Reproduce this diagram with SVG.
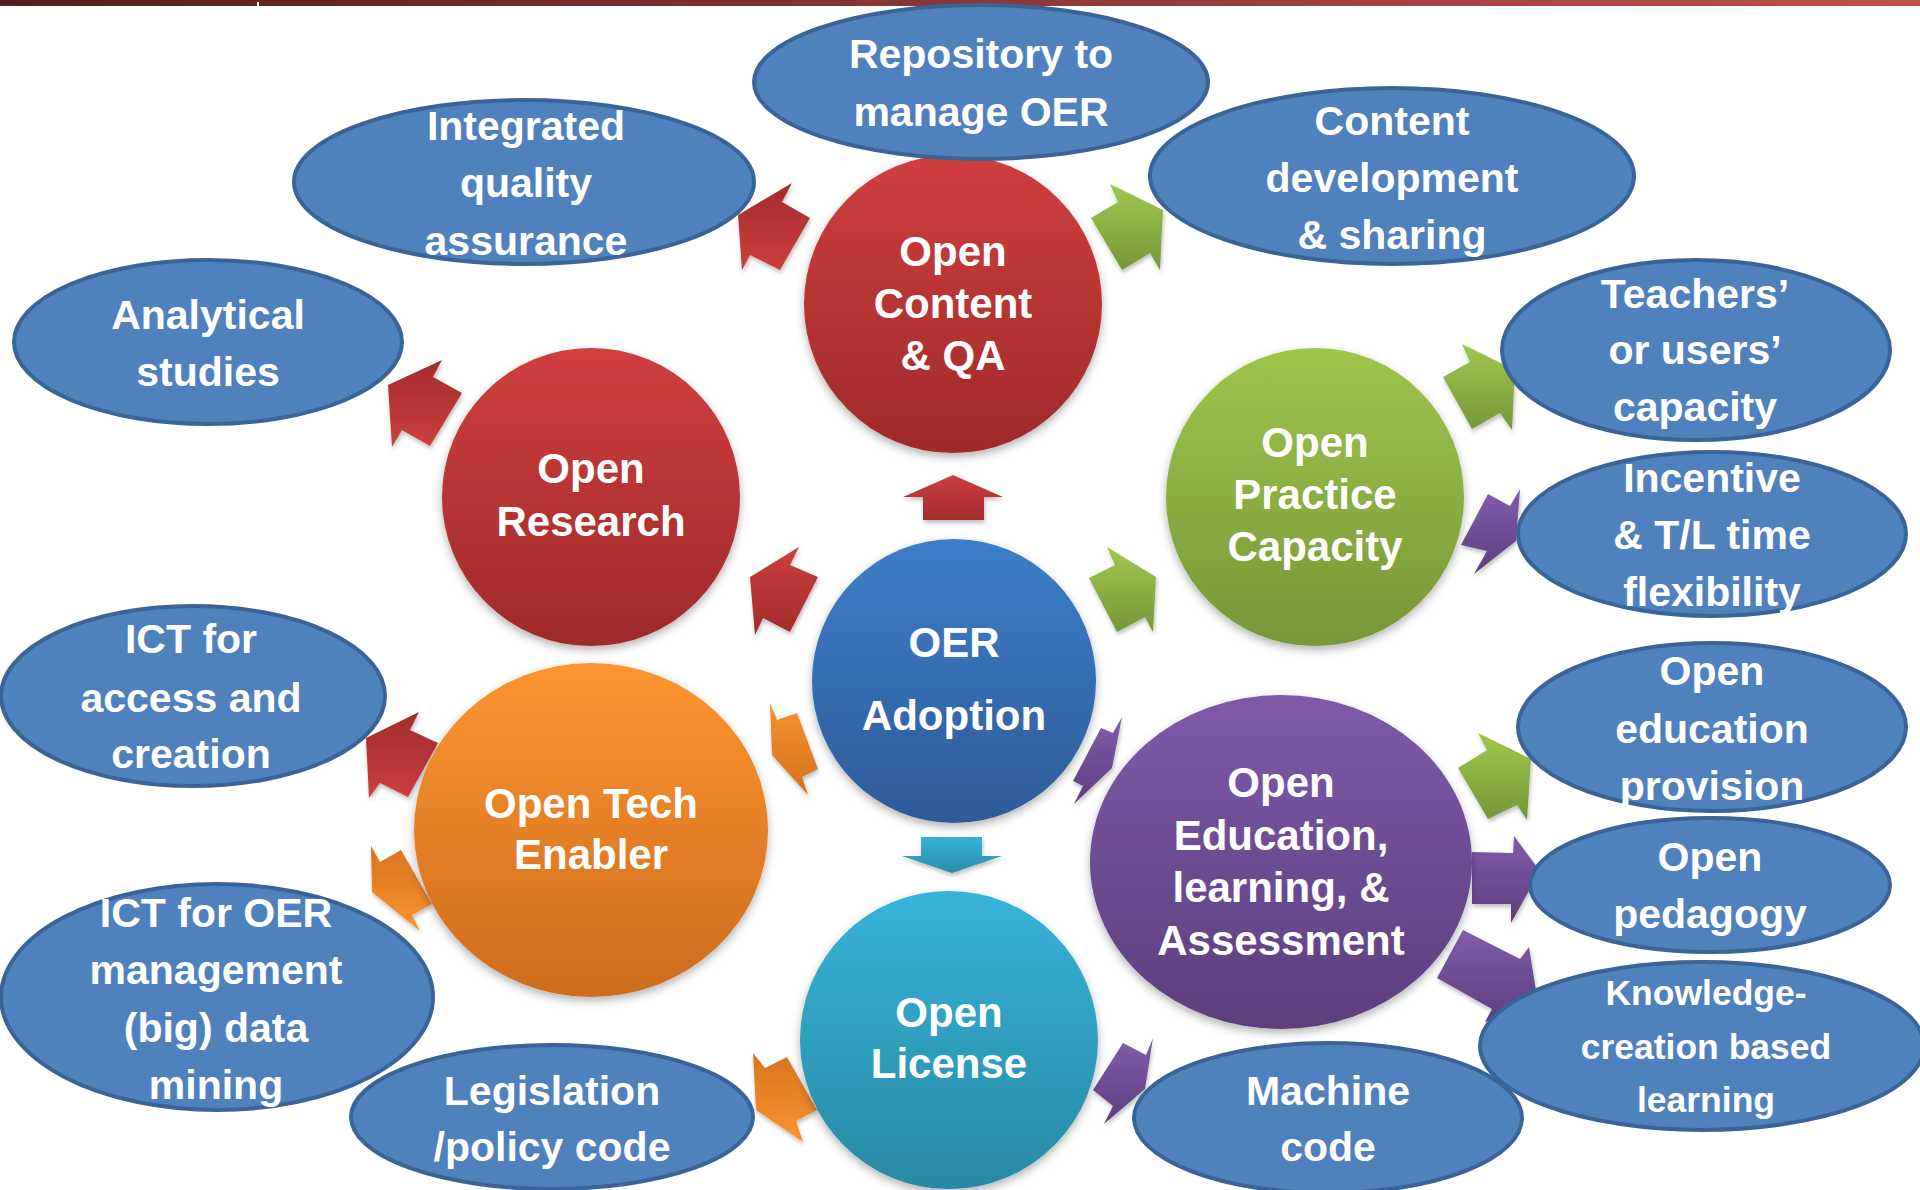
<svg xmlns="http://www.w3.org/2000/svg" width="1920" height="1190" viewBox="0 0 1920 1190">
  <defs>
    <style>
      .t { font-family: "Liberation Sans", Arial, sans-serif; font-weight: bold; fill: #ffffff; text-anchor: middle; font-size: 41px; }
      .tc { font-size: 42px; }
      .ts { font-size: 35.5px; }
      .leaf { fill: #4f81bd; stroke: #3a6396; stroke-width: 4; }
      .hub { filter: url(#softShadow); }
      .arrow { filter: url(#arrowShadow); }
    </style>
    <linearGradient id="barGrad" x1="0" y1="0" x2="1" y2="0">
      <stop offset="0" stop-color="#531e1f"/>
      <stop offset="1" stop-color="#c0504d"/>
    </linearGradient>
    <!-- hub fills -->
    <linearGradient id="gRed" x1="0" y1="0" x2="0" y2="1">
      <stop offset="0" stop-color="#d03f3e"/>
      <stop offset="1" stop-color="#9e2a2a"/>
    </linearGradient>
    <linearGradient id="gBlue" x1="0" y1="0" x2="0" y2="1">
      <stop offset="0" stop-color="#3d7ec9"/>
      <stop offset="1" stop-color="#2e5b98"/>
    </linearGradient>
    <linearGradient id="gGreen" x1="0" y1="0" x2="0" y2="1">
      <stop offset="0" stop-color="#9dc64b"/>
      <stop offset="1" stop-color="#779739"/>
    </linearGradient>
    <linearGradient id="gOrange" x1="0" y1="0" x2="0" y2="1">
      <stop offset="0" stop-color="#fd9530"/>
      <stop offset="1" stop-color="#cd6c1e"/>
    </linearGradient>
    <linearGradient id="gTeal" x1="0" y1="0" x2="0" y2="1">
      <stop offset="0" stop-color="#37b4d9"/>
      <stop offset="1" stop-color="#2889a3"/>
    </linearGradient>
    <linearGradient id="gPurple" x1="0" y1="0" x2="0" y2="1">
      <stop offset="0" stop-color="#7d5aa8"/>
      <stop offset="1" stop-color="#5d3e7d"/>
    </linearGradient>
    <!-- arrow fills -->
    <linearGradient id="aRed" x1="0" y1="0" x2="0" y2="1">
      <stop offset="0" stop-color="#cc3f3e"/>
      <stop offset="1" stop-color="#a22c2c"/>
    </linearGradient>
    <linearGradient id="aRedUp" x1="0" y1="0" x2="0" y2="1">
      <stop offset="0" stop-color="#a22c2c"/>
      <stop offset="1" stop-color="#cc3f3e"/>
    </linearGradient>
    <linearGradient id="aGreen" x1="0" y1="0" x2="0" y2="1">
      <stop offset="0" stop-color="#9fc84c"/>
      <stop offset="1" stop-color="#76973a"/>
    </linearGradient>
    <linearGradient id="aPurple" x1="0" y1="0" x2="0" y2="1">
      <stop offset="0" stop-color="#805dab"/>
      <stop offset="1" stop-color="#5e3e7f"/>
    </linearGradient>
    <linearGradient id="aOrange" x1="0" y1="0" x2="0" y2="1">
      <stop offset="0" stop-color="#f6922f"/>
      <stop offset="1" stop-color="#d5711f"/>
    </linearGradient>
    <linearGradient id="aOrangeUp" x1="0" y1="0" x2="0" y2="1">
      <stop offset="0" stop-color="#d9741f"/>
      <stop offset="1" stop-color="#f8942f"/>
    </linearGradient>
    <linearGradient id="aTeal" x1="0" y1="0" x2="0" y2="1">
      <stop offset="0" stop-color="#37b3d7"/>
      <stop offset="1" stop-color="#2a8ca8"/>
    </linearGradient>
    <filter id="softShadow" x="-20%" y="-20%" width="140%" height="150%">
      <feDropShadow dx="0" dy="4" stdDeviation="5" flood-color="#000" flood-opacity="0.3"/>
    </filter>
    <filter id="arrowShadow" x="-30%" y="-30%" width="160%" height="160%">
      <feDropShadow dx="1" dy="3" stdDeviation="2" flood-color="#000" flood-opacity="0.25"/>
    </filter>
  </defs>

  <rect width="1920" height="1190" fill="#ffffff"/>
  <!-- title band -->
  <rect x="0" y="0" width="1920" height="6" fill="url(#barGrad)"/>
  <rect x="257" y="2" width="2" height="4" fill="#ffffff"/>

  <!-- block arrows between hubs and outcomes -->
  <g id="connectors">
    <polygon class="arrow" fill="url(#aRedUp)" points="738,215 792,183 782,202 810,218 780,270 750,255 742,270"/>
    <polygon class="arrow" fill="url(#aGreen)" points="1110,184 1118,202 1091,218 1122,270 1150,253 1160,270 1163,210"/>
    <polygon class="arrow" fill="url(#aRed)" points="953,475 1003,497 984,497 984,520 923,520 923,497 903,497"/>
    <polygon class="arrow" fill="url(#aRedUp)" points="388,385 442,360 433,377 462,393 430,446 402,430 392,447"/>
    <polygon class="arrow" fill="url(#aRed)" points="750,577 799,547 790,565 818,577 790,632 763,618 755,635"/>
    <polygon class="arrow" fill="url(#aGreen)" points="1107,547 1115,565 1089,578 1117,632 1145,617 1153,632 1156,577"/>
    <polygon class="arrow" fill="url(#aGreen)" points="1462,344 1470,362 1443,377 1472,429 1500,413 1512,430 1515,370"/>
    <polygon class="arrow" fill="url(#aPurple)" points="1520,489 1510,506 1488,494 1461,545 1487,551 1474,574 1516,541"/>
    <polygon class="arrow" fill="url(#aOrange)" points="772,755 770,703 777,720 797,713 818,769 802,777 808,795"/>
    <polygon class="arrow" fill="url(#aPurple)" points="1122,717 1113,733 1101,728 1073,781 1083,786 1074,804 1112,768"/>
    <polygon class="arrow" fill="url(#aTeal)" points="921,837 982,837 982,856 1002,856 952,873 902,856 921,856"/>
    <polygon class="arrow" fill="url(#aRedUp)" points="366,738 419,712 410,730 438,743 408,797 380,783 369,798"/>
    <polygon class="arrow" fill="url(#aOrangeUp)" points="371,846 380,862 401,850 432,904 412,915 420,931 372,892"/>
    <polygon class="arrow" fill="url(#aGreen)" points="1478,733 1487,750 1458,768 1488,819 1517,805 1527,820 1531,759"/>
    <polygon class="arrow" fill="url(#aPurple)" points="1472,852 1513,853 1514,836 1540,871 1511,923 1511,904 1472,904"/>
    <polygon class="arrow" fill="url(#aPurple)" points="1463,930 1520,959 1529,947 1538,1003 1485,1022 1492,1009 1437,978"/>
    <polygon class="arrow" fill="url(#aOrangeUp)" points="753,1053 765,1068 787,1057 817,1110 796,1121 803,1142 756,1110"/>
    <polygon class="arrow" fill="url(#aPurple)" points="1153,1038 1146,1055 1123,1043 1093,1090 1113,1106 1104,1124 1145,1089"/>
  </g>

  <!-- hub circles -->
  <g id="open-content">
    <circle class="hub" cx="953" cy="304" r="149" fill="url(#gRed)"/>
    <text class="t tc"><tspan x="953" y="266">Open</tspan><tspan x="953" y="318">Content</tspan><tspan x="953" y="370">&amp; QA</tspan></text>
  </g>
  <g id="open-research">
    <circle class="hub" cx="591" cy="497" r="149" fill="url(#gRed)"/>
    <text class="t tc"><tspan x="591" y="483">Open</tspan><tspan x="591" y="536">Research</tspan></text>
  </g>
  <g id="oer-adoption">
    <circle class="hub" cx="954" cy="681" r="142" fill="url(#gBlue)"/>
    <text class="t tc"><tspan x="954" y="657">OER</tspan><tspan x="954" y="730">Adoption</tspan></text>
  </g>
  <g id="open-practice">
    <circle class="hub" cx="1315" cy="497" r="149" fill="url(#gGreen)"/>
    <text class="t tc"><tspan x="1315" y="457">Open</tspan><tspan x="1315" y="509">Practice</tspan><tspan x="1315" y="561">Capacity</tspan></text>
  </g>
  <g id="open-tech">
    <ellipse class="hub" cx="591" cy="830" rx="177" ry="167" fill="url(#gOrange)"/>
    <text class="t tc"><tspan x="591" y="818">Open Tech</tspan><tspan x="591" y="869">Enabler</tspan></text>
  </g>
  <g id="open-license">
    <circle class="hub" cx="949" cy="1040" r="149" fill="url(#gTeal)"/>
    <text class="t tc"><tspan x="949" y="1027">Open</tspan><tspan x="949" y="1078">License</tspan></text>
  </g>
  <g id="open-education">
    <ellipse class="hub" cx="1281" cy="862" rx="191" ry="167" fill="url(#gPurple)"/>
    <text class="t tc"><tspan x="1281" y="797">Open</tspan><tspan x="1281" y="850">Education,</tspan><tspan x="1281" y="902">learning, &amp;</tspan><tspan x="1281" y="955">Assessment</tspan></text>
  </g>

  <!-- outcome ellipses -->
  <g id="repository">
    <ellipse class="leaf" cx="981" cy="82" rx="227" ry="77"/>
    <text class="t"><tspan x="981" y="68">Repository to</tspan><tspan x="981" y="126">manage OER</tspan></text>
  </g>
  <g id="integrated-qa">
    <ellipse class="leaf" cx="524" cy="182" rx="230" ry="82"/>
    <text class="t"><tspan x="526" y="140">Integrated</tspan><tspan x="526" y="197">quality</tspan><tspan x="526" y="255">assurance</tspan></text>
  </g>
  <g id="content-development">
    <ellipse class="leaf" cx="1392" cy="176" rx="242" ry="88"/>
    <text class="t"><tspan x="1392" y="135">Content</tspan><tspan x="1392" y="192">development</tspan><tspan x="1392" y="249">&amp; sharing</tspan></text>
  </g>
  <g id="analytical-studies">
    <ellipse class="leaf" cx="208" cy="342" rx="194" ry="82"/>
    <text class="t"><tspan x="208" y="329">Analytical</tspan><tspan x="208" y="386">studies</tspan></text>
  </g>
  <g id="teachers-capacity">
    <ellipse class="leaf" cx="1696" cy="350" rx="194" ry="90"/>
    <text class="t"><tspan x="1695" y="308">Teachers’</tspan><tspan x="1695" y="364">or users’</tspan><tspan x="1695" y="421">capacity</tspan></text>
  </g>
  <g id="incentive">
    <ellipse class="leaf" cx="1712" cy="534" rx="194" ry="82"/>
    <text class="t"><tspan x="1712" y="492">Incentive</tspan><tspan x="1712" y="549">&amp; T/L time</tspan><tspan x="1712" y="606">flexibility</tspan></text>
  </g>
  <g id="ict-access">
    <ellipse class="leaf" cx="193" cy="696" rx="192" ry="90"/>
    <text class="t"><tspan x="191" y="653">ICT for</tspan><tspan x="191" y="712">access and</tspan><tspan x="191" y="768">creation</tspan></text>
  </g>
  <g id="ict-oer-management">
    <ellipse class="leaf" cx="217" cy="997" rx="216" ry="113"/>
    <text class="t"><tspan x="216" y="927">ICT for OER</tspan><tspan x="216" y="984">management</tspan><tspan x="216" y="1042">(big) data</tspan><tspan x="216" y="1099">mining</tspan></text>
  </g>
  <g id="legislation">
    <ellipse class="leaf" cx="552" cy="1117" rx="201" ry="72"/>
    <text class="t"><tspan x="552" y="1105">Legislation</tspan><tspan x="552" y="1161">/policy code</tspan></text>
  </g>
  <g id="education-provision">
    <ellipse class="leaf" cx="1712" cy="727" rx="194" ry="84"/>
    <text class="t"><tspan x="1712" y="685">Open</tspan><tspan x="1712" y="743">education</tspan><tspan x="1712" y="800">provision</tspan></text>
  </g>
  <g id="open-pedagogy">
    <ellipse class="leaf" cx="1710" cy="885" rx="180" ry="67"/>
    <text class="t"><tspan x="1710" y="871">Open</tspan><tspan x="1710" y="928">pedagogy</tspan></text>
  </g>
  <g id="knowledge-creation">
    <ellipse class="leaf" cx="1702" cy="1046" rx="222" ry="84"/>
    <text class="t ts"><tspan x="1706" y="1005">Knowledge-</tspan><tspan x="1706" y="1059">creation based</tspan><tspan x="1706" y="1112">learning</tspan></text>
  </g>
  <g id="machine-code">
    <ellipse class="leaf" cx="1328" cy="1118" rx="194" ry="75"/>
    <text class="t"><tspan x="1328" y="1105">Machine</tspan><tspan x="1328" y="1161">code</tspan></text>
  </g>
</svg>
